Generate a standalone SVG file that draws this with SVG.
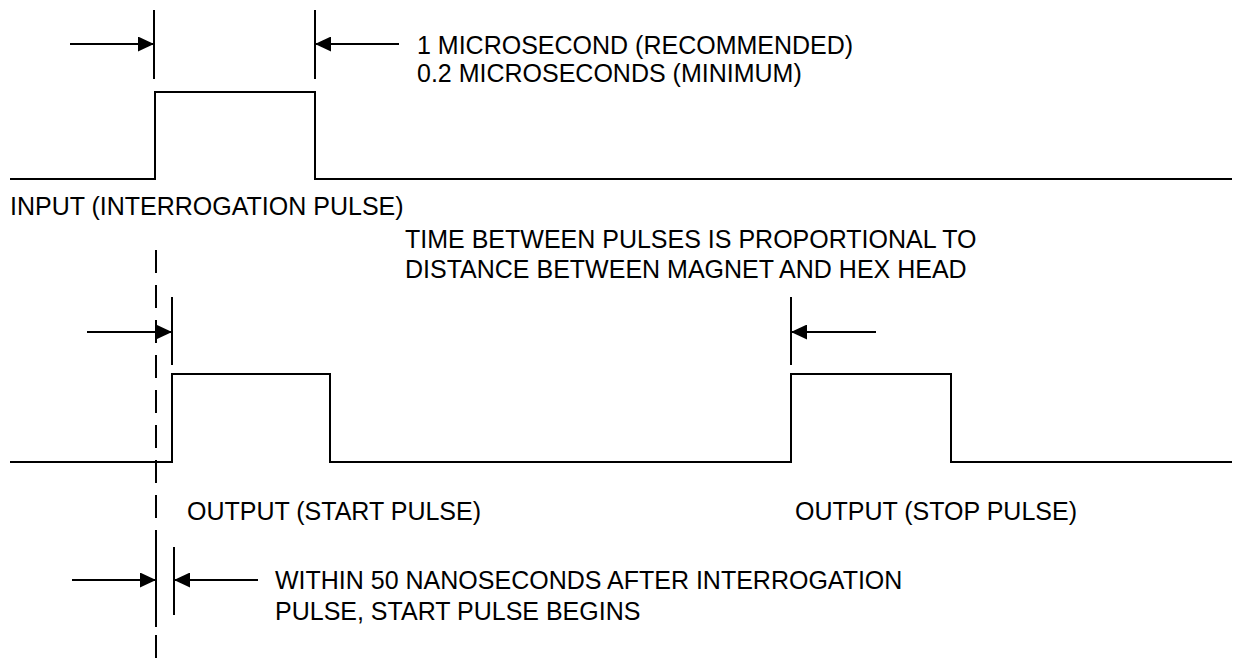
<svg xmlns="http://www.w3.org/2000/svg" width="1234" height="660" viewBox="0 0 1234 660">
<defs>
<style>
.w{fill:none;stroke:#000;stroke-width:2;stroke-linejoin:miter}
.t{fill:none;stroke:#000;stroke-width:2}
.a{fill:none;stroke:#000;stroke-width:2;marker-end:url(#ah)}
.d{fill:none;stroke:#000;stroke-width:2;stroke-dasharray:23 12}
text{font-family:"Liberation Sans",Arial,sans-serif;font-size:25px;fill:#000}
</style>
<marker id="ah" markerUnits="userSpaceOnUse" markerWidth="16" markerHeight="15" refX="16" refY="7.5" orient="auto">
<path d="M0,0 L16,7.5 L0,15 z" fill="#000"/>
</marker>
</defs>
<rect width="1234" height="660" fill="#fff"/>
<g id="input-wave">
<path class="w" d="M10,179 H155 V92 H315 V179 H1232"/>
<text x="10" y="215">INPUT (INTERROGATION PULSE)</text>
</g>
<g id="output-wave">
<path class="w" d="M10,462 H172 V374 H330 V462 H791 V374 H951 V462 H1232"/>
<text x="187" y="520">OUTPUT (START PULSE)</text>
<text x="795" y="520">OUTPUT (STOP PULSE)</text>
</g>
<g id="reference-line">
<line class="d" x1="156" y1="250" x2="156" y2="660"/>
<line class="t" x1="156" y1="533" x2="156" y2="627"/>
</g>
<g id="ticks">
<line class="t" x1="154" y1="10" x2="154" y2="79"/>
<line class="t" x1="315" y1="10" x2="315" y2="79"/>
<line class="t" x1="172" y1="297" x2="172" y2="365"/>
<line class="t" x1="791" y1="297" x2="791" y2="365"/>
<line class="t" x1="174" y1="547" x2="174" y2="615"/>
</g>
<g id="connectors">
<line class="a" x1="70" y1="44" x2="154" y2="44"/>
<line class="a" x1="399" y1="44" x2="315" y2="44"/>
<line class="a" x1="87" y1="332" x2="172" y2="332"/>
<line class="a" x1="876" y1="332" x2="791" y2="332"/>
<line class="a" x1="72" y1="580" x2="156" y2="580"/>
<line class="a" x1="258" y1="580" x2="174" y2="580"/>
</g>
<g id="labels">
<text x="417" y="54">1 MICROSECOND (RECOMMENDED)</text>
<text x="417" y="82">0.2 MICROSECONDS (MINIMUM)</text>
<text x="405" y="248">TIME BETWEEN PULSES IS PROPORTIONAL TO</text>
<text x="405" y="278">DISTANCE BETWEEN MAGNET AND HEX HEAD</text>
<text x="275" y="589">WITHIN 50 NANOSECONDS AFTER INTERROGATION</text>
<text x="275" y="620">PULSE, START PULSE BEGINS</text>
</g>
</svg>
